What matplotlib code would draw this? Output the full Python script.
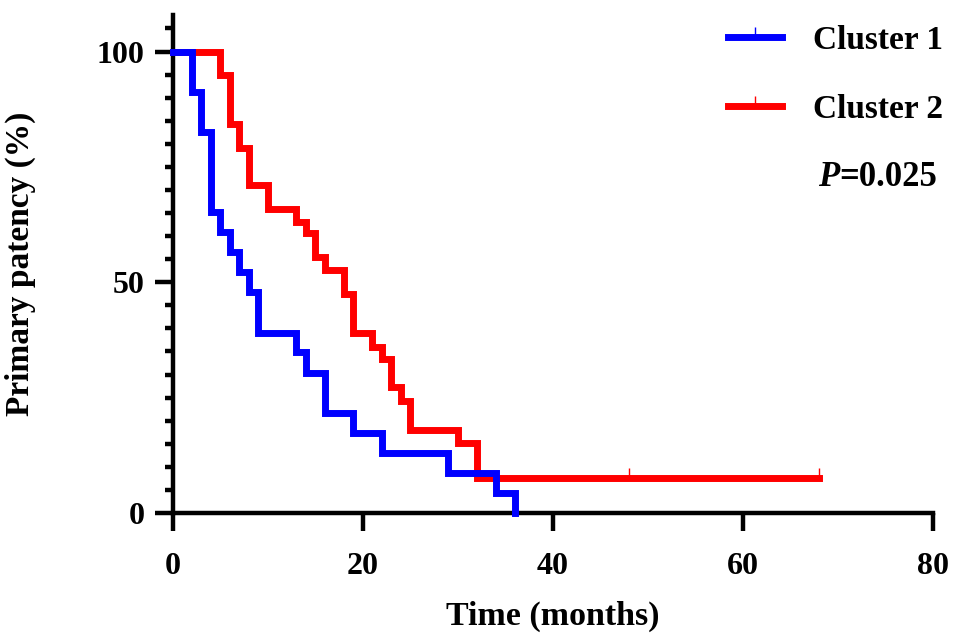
import matplotlib
matplotlib.use("Agg")
import matplotlib.pyplot as plt
from matplotlib.lines import Line2D
from matplotlib.path import Path
from matplotlib.ticker import MultipleLocator

plt.rcParams['font.family'] = ['Liberation Serif', 'DejaVu Serif']
plt.rcParams['font.weight'] = 'bold'

# Kaplan-Meier steps (months, % primary patency)
c1_time = [0, 2, 3, 4, 5, 6, 7, 8, 9, 13, 14, 16, 19, 22, 29, 34, 36]
c1_surv = [100, 91.3, 82.6, 65.2, 60.9, 56.5, 52.2, 47.8, 39.1, 34.8,
           30.4, 21.7, 17.4, 13.0, 8.7, 4.3, 0]

c2_time = [0, 5, 6, 7, 8, 10, 13, 14, 15, 16, 18, 19, 21, 22, 23, 24, 25,
           30, 32, 68]
c2_surv = [100, 94.9, 84.4, 79.0, 71.1, 65.8, 63.1, 60.6, 55.5, 52.7, 47.5,
           38.9, 36.0, 33.3, 27.2, 24.3, 18.0, 15.2, 7.6, 7.6]

# censored observations on cluster 2
c2_cens_time = [48, 68]
c2_cens_surv = [7.6, 7.6]

labels = ["Cluster 1", "Cluster 2"]
p_text = "=0.025"

blue = "#0000ff"
red = "#ff0000"

# tick that points up from the line (censor mark)
up_tick = Path([(0, 0), (0, 1)])

fig = plt.figure(figsize=(9.57, 6.4), dpi=100)
ax = fig.add_axes([0.1803, 0.1984, 0.7941, 0.7788])

ax.step(c2_time, c2_surv, where="post", color=red, lw=5, zorder=3,
        solid_joinstyle="miter", clip_on=False)
ax.plot(c2_cens_time, c2_cens_surv, ls="none", marker=up_tick, ms=15,
        mec=red, mew=1, zorder=3, clip_on=False)
ax.step(c1_time, c1_surv, where="post", color=blue, lw=5, zorder=4,
        solid_joinstyle="miter", clip_on=False)

ax.set_xlim(0, 80)
ax.set_ylim(0, 108)
ax.set_xticks([0, 20, 40, 60, 80])
ax.set_yticks([0, 50, 100])
ax.yaxis.set_minor_locator(MultipleLocator(5))

for side in ["top", "right"]:
    ax.spines[side].set_visible(False)
for side in ["left", "bottom"]:
    ax.spines[side].set_linewidth(3.2)

ax.tick_params(axis="both", which="major", length=13, width=3.2,
               labelsize=23, direction="out")
ax.tick_params(axis="y", which="major", pad=7)
ax.tick_params(axis="x", which="major", pad=15)
ax.tick_params(axis="y", which="minor", length=6, width=3.2)

ax.set_xlabel("Time (months)", fontsize=24.5, fontweight="bold", labelpad=14)
ax.set_ylabel("Primary patency (%)", fontsize=24, fontweight="bold", labelpad=44)

handles = [
    Line2D([], [], color=blue, lw=5, marker=up_tick, ms=15, mec=blue, mew=1),
    Line2D([], [], color=red, lw=5, marker=up_tick, ms=15, mec=red, mew=1),
]
ax.legend(handles, labels, loc="upper right", bbox_to_anchor=(1.053, 1.04),
          frameon=False, fontsize=24, handlelength=1.62, handletextpad=0.93,
          labelspacing=1.14, numpoints=1, markerfirst=True)

t1 = ax.text(0.849, 0.674, "P", transform=ax.transAxes, fontsize=25,
             fontweight="bold", fontstyle="italic", va="center", ha="left")
ax.annotate(p_text, xy=(1, 0.5), xycoords=t1, fontsize=25, fontweight="bold",
            va="center", ha="left")

fig.savefig("out.png", dpi=100)
